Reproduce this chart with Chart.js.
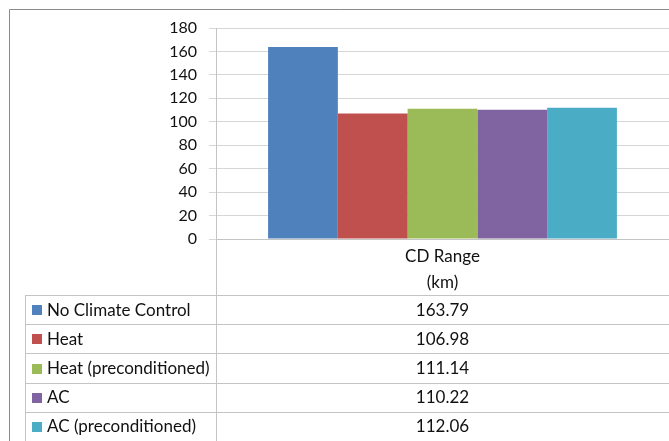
<!DOCTYPE html>
<html>
<head>
<meta charset="utf-8">
<script src="https://cdn.jsdelivr.net/npm/chart.js@4.4.0/dist/chart.umd.min.js"></script>
<style>
  html, body { margin: 0; padding: 0; background: #fff; }
  #wrap { width: 669px; height: 441px; }
</style>
</head>
<body>
<div id="wrap"><canvas id="rangeChart" width="669" height="441"></canvas></div>
<script>
// data
const categories = [['CD Range', '(km)']];
const seriesNames = ['No Climate Control', 'Heat', 'Heat (preconditioned)', 'AC', 'AC (preconditioned)'];
const noClimate = [163.79];
const heat = [106.98];
const heatPre = [111.14];
const ac = [110.22];
const acPre = [112.06];
const yMin = 0, yMax = 180, yStep = 20;

const seriesValues = [noClimate, heat, heatPre, ac, acPre];
const seriesColors = ['#4F81BD', '#C0504D', '#9BBB59', '#8064A2', '#4BACC6'];
const FONT = 'Lato, "Liberation Sans", sans-serif';
const TEXT = '#111';

// frame, extended axis line and the data table under the plot
const dataTable = {
  id: 'dataTable',
  afterDraw(chart) {
    const ctx = chart.ctx;
    const area = chart.chartArea;
    const x = chart.scales.x;
    const H = chart.height, W = chart.width;
    const top = 295, rowH = 29.2, left = 25;

    ctx.save();
    // outer frame
    ctx.strokeStyle = '#8a8a8a';
    ctx.lineWidth = 1;
    ctx.beginPath();
    ctx.moveTo(9.5, H);
    ctx.lineTo(9.5, 9.5);
    ctx.lineTo(W, 9.5);
    ctx.stroke();

    // y axis line continues down through the table
    ctx.strokeStyle = '#c4c4c4';
    ctx.beginPath();
    ctx.moveTo(Math.round(area.left) + 0.5, area.bottom);
    ctx.lineTo(Math.round(area.left) + 0.5, H);
    ctx.stroke();

    // table grid
    ctx.beginPath();
    ctx.moveTo(left + 0.5, top);
    ctx.lineTo(left + 0.5, H);
    for (let i = 0; i < seriesNames.length; i++) {
      const y = Math.round(top + i * rowH) + 0.5;
      ctx.moveTo(left, y);
      ctx.lineTo(W, y);
    }
    ctx.stroke();

    // rows
    ctx.font = '17px ' + FONT;
    ctx.textBaseline = 'middle';
    const cx = x.getPixelForValue(0);
    seriesNames.forEach((name, i) => {
      const yc = top + i * rowH + rowH / 2 + 0.5;
      ctx.fillStyle = seriesColors[i];
      ctx.fillRect(32, Math.round(yc - 5), 10, 10);
      ctx.fillStyle = TEXT;
      ctx.textAlign = 'left';
      ctx.fillText(name, 47, yc);
      ctx.textAlign = 'center';
      ctx.fillText(seriesValues[i][0].toFixed(2), cx, yc);
    });
    ctx.restore();
  }
};

new Chart(document.getElementById('rangeChart'), {
  type: 'bar',
  data: {
    labels: categories,
    datasets: seriesNames.map((name, i) => ({
      label: name,
      data: seriesValues[i],
      backgroundColor: seriesColors[i],
      borderWidth: 0,
      categoryPercentage: 0.77,
      barPercentage: 1.0
    }))
  },
  options: {
    responsive: false,
    animation: false,
    devicePixelRatio: 1,
    layout: { padding: { top: 28, left: 0, right: 0, bottom: 0 } },
    plugins: { legend: { display: false }, tooltip: { enabled: false } },
    scales: {
      x: {
        afterFit(scale) { scale.height = 202; },
        grid: { display: false, drawTicks: false },
        border: { color: '#c4c4c4' },
        ticks: {
          color: TEXT,
          padding: 4,
          font: { family: FONT, size: 17, lineHeight: 1.55 }
        }
      },
      y: {
        min: yMin,
        max: yMax,
        afterFit(scale) { scale.width = 216; },
        grid: { color: '#d6d6d6', tickLength: 7 },
        border: { color: '#c4c4c4' },
        ticks: {
          stepSize: yStep,
          color: TEXT,
          padding: 12,
          font: { family: FONT, size: 16 }
        }
      }
    }
  },
  plugins: [dataTable]
});
</script>
</body>
</html>
